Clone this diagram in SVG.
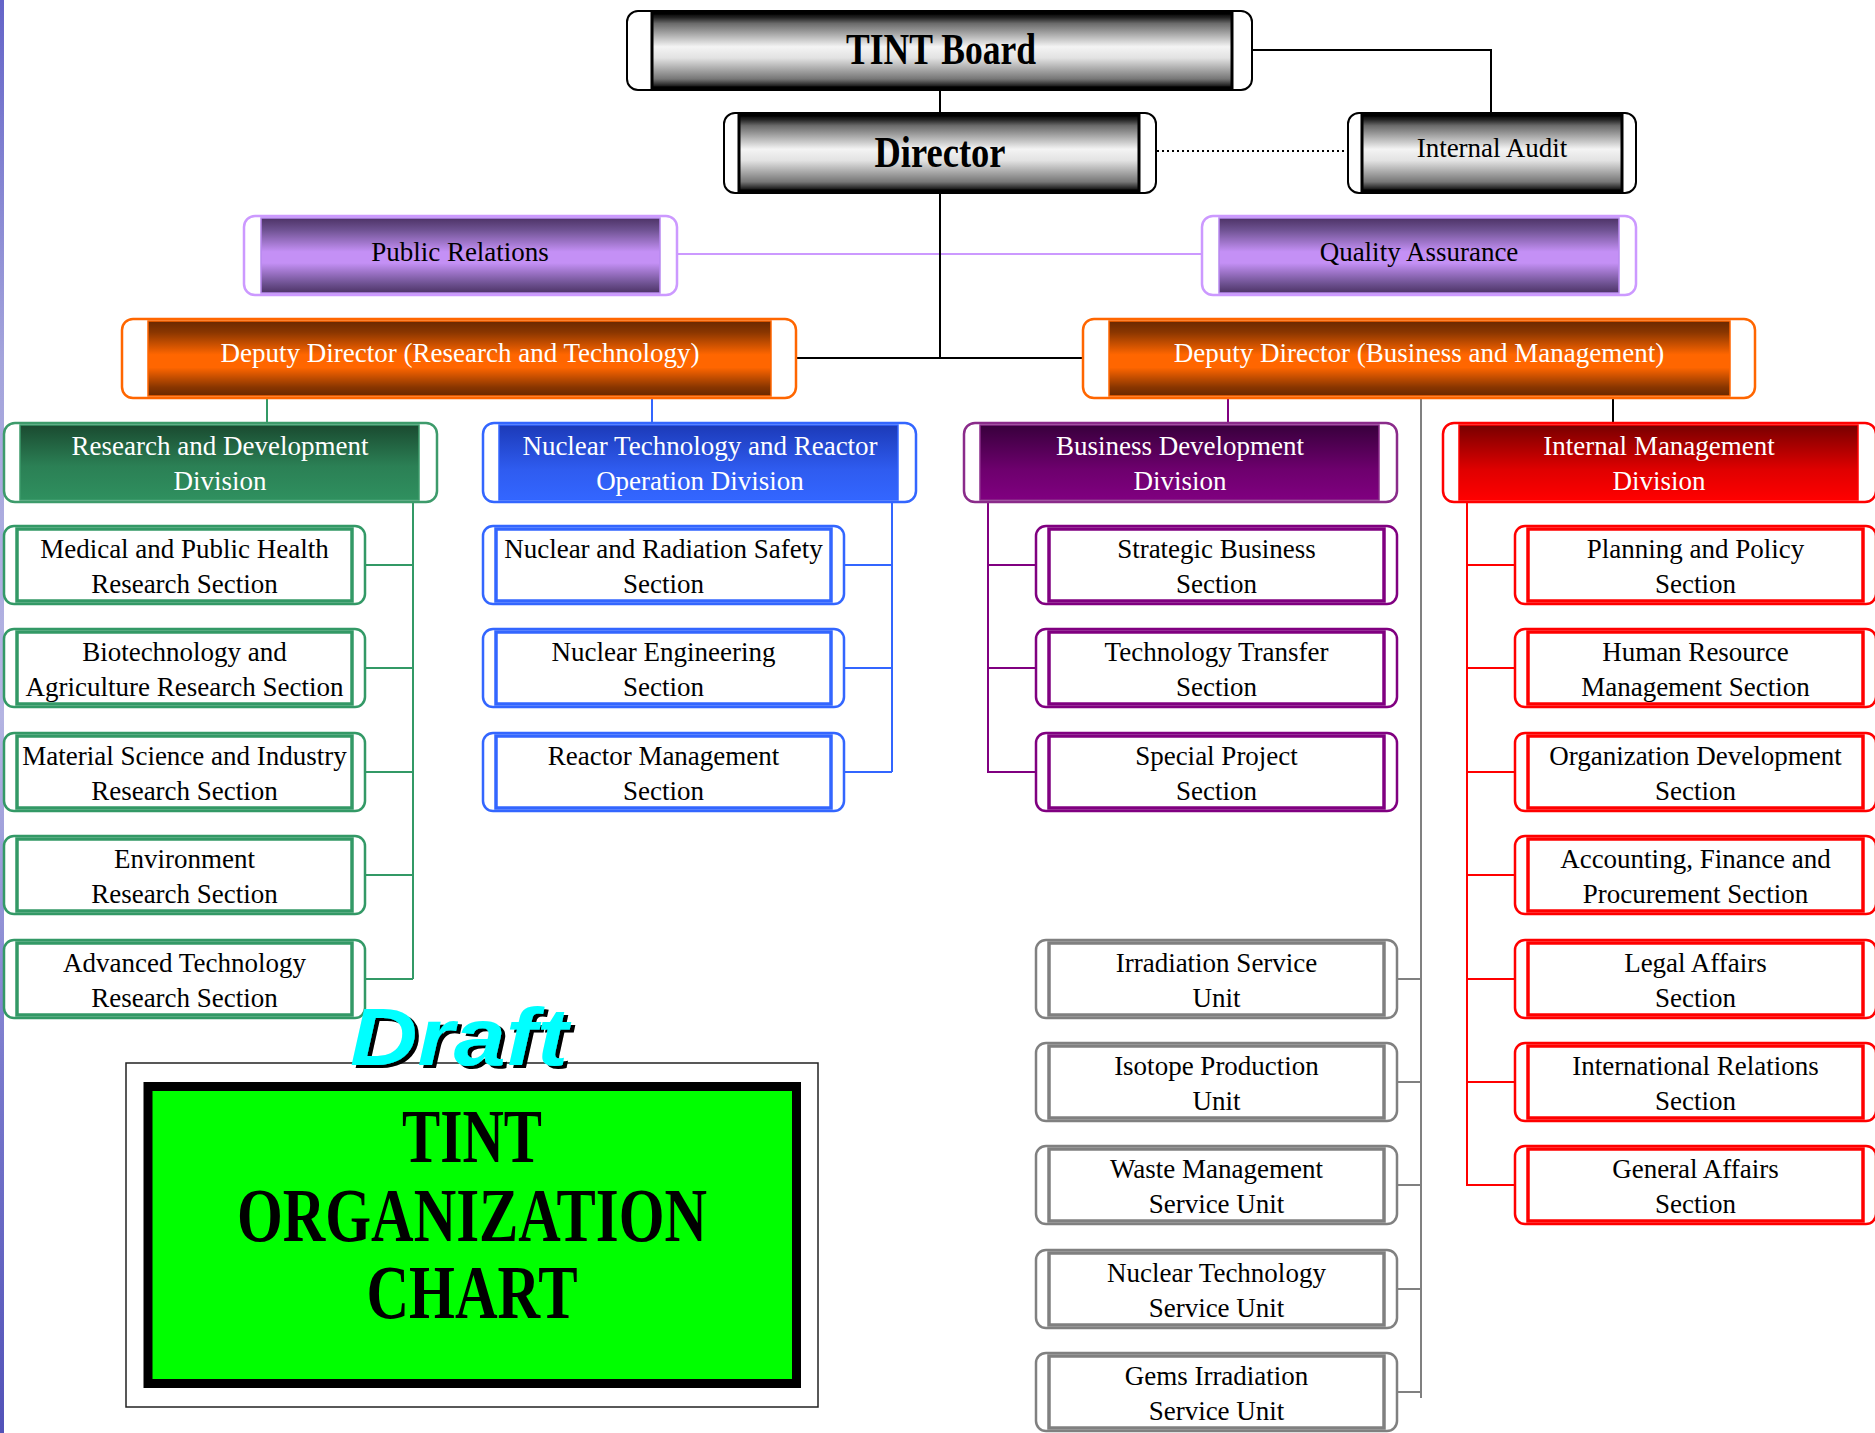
<svg xmlns="http://www.w3.org/2000/svg" width="1875" height="1433" viewBox="0 0 1875 1433">
<defs>
<linearGradient id="gBlack" x1="0" y1="0" x2="0" y2="1">
<stop offset="0" stop-color="#000"/><stop offset="0.06" stop-color="#222"/><stop offset="0.14" stop-color="#6a6a6a"/><stop offset="0.45" stop-color="#f4f4f4"/><stop offset="0.6" stop-color="#e2e2e2"/><stop offset="0.88" stop-color="#777"/><stop offset="0.95" stop-color="#333"/><stop offset="1" stop-color="#000"/>
</linearGradient>
<linearGradient id="gLav" x1="0" y1="0" x2="0" y2="1">
<stop offset="0" stop-color="#4d3366"/><stop offset="0.15" stop-color="#6c508f"/><stop offset="0.45" stop-color="#c490f5"/><stop offset="0.6" stop-color="#c490f5"/><stop offset="0.88" stop-color="#6c508f"/><stop offset="1" stop-color="#4d3366"/>
</linearGradient>
<linearGradient id="gOrange" x1="0" y1="0" x2="0" y2="1">
<stop offset="0" stop-color="#6a2800"/><stop offset="0.15" stop-color="#8a3600"/><stop offset="0.45" stop-color="#ff6600"/><stop offset="0.62" stop-color="#ff6600"/><stop offset="0.88" stop-color="#8a3600"/><stop offset="1" stop-color="#6a2800"/>
</linearGradient>
<linearGradient id="gGreen" x1="0" y1="0" x2="0" y2="1">
<stop offset="0" stop-color="#1a4a30"/><stop offset="0.55" stop-color="#2b8055"/><stop offset="1" stop-color="#2f905f"/>
</linearGradient>
<linearGradient id="gBlue" x1="0" y1="0" x2="0" y2="1">
<stop offset="0" stop-color="#1c3ab8"/><stop offset="0.6" stop-color="#2f5cf0"/><stop offset="1" stop-color="#3366ff"/>
</linearGradient>
<linearGradient id="gPurple" x1="0" y1="0" x2="0" y2="1">
<stop offset="0" stop-color="#38003c"/><stop offset="0.6" stop-color="#6e006e"/><stop offset="1" stop-color="#800080"/>
</linearGradient>
<linearGradient id="gRed" x1="0" y1="0" x2="0" y2="1">
<stop offset="0" stop-color="#780000"/><stop offset="0.6" stop-color="#e00000"/><stop offset="1" stop-color="#ff0000"/>
</linearGradient>
<linearGradient id="gEdge" x1="0" y1="0" x2="0" y2="1">
<stop offset="0" stop-color="#6464c8"/><stop offset="0.25" stop-color="#a4a4dc"/><stop offset="0.5" stop-color="#b4b4e2"/><stop offset="0.75" stop-color="#7878cc"/><stop offset="1" stop-color="#5252b8"/>
</linearGradient>
<filter id="shadow" x="-10%" y="-10%" width="130%" height="130%">
<feOffset in="SourceAlpha" dx="4" dy="3" result="off"/>
<feFlood flood-color="#000"/>
<feComposite in2="off" operator="in" result="sh"/>
<feMerge><feMergeNode in="sh"/><feMergeNode in="SourceGraphic"/></feMerge>
</filter>
<style>
.t{font-family:"Liberation Serif","Times New Roman",serif;font-size:27px;text-anchor:middle;fill:#000}
.w{fill:#fff}
.big{font-size:44px;font-weight:bold}
.o{fill:#fff;stroke-width:2.5}
.i{stroke-width:3}
.kO{stroke:#000;stroke-width:2}
.kI{fill:url(#gBlack);stroke:#000}
.lO{stroke:#cc99ff}
.lI{fill:url(#gLav);stroke:#b888f0;stroke-width:1.5}
.oO{stroke:#ff6600}
.oI{fill:url(#gOrange);stroke:#ff6600;stroke-width:1.5}
.gO{stroke:#3d9b6b}
.gI{fill:url(#gGreen);stroke:#3d9b6b;stroke-width:1.5}
.bO{stroke:#3366ff}
.bI{fill:url(#gBlue);stroke:#3366ff;stroke-width:1.5}
.pO{stroke:#8a2b8a}
.pI{fill:url(#gPurple);stroke:#8a2b8a;stroke-width:1.5}
.rO{stroke:#ff0000}
.rI{fill:url(#gRed);stroke:#ff0000;stroke-width:1.5}
.sg{stroke:#339966}
.sb{stroke:#3366ff}
.sp{stroke:#800080}
.sr{stroke:#ff0000}
.sy{stroke:#808080}
.si{fill:#fff;stroke-width:3.5}
.c{fill:none;stroke-width:2}
</style>
</defs>
<rect x="0" y="0" width="1875" height="1433" fill="#fff"/>
<rect x="0" y="0" width="4" height="1433" fill="url(#gEdge)"/>

<g id="connectors">
<path class="c" stroke="#cc99ff" stroke-width="2.5" d="M677,254H1202"/>
<path class="c" stroke="#000" d="M1252,50H1491V113M940,90V113M940,193V358"/>
<path class="c" stroke="#000" stroke-width="2.5" d="M796,358H1083"/>
<path class="c" stroke="#000" stroke-dasharray="2,3" d="M1157,151H1348"/>
<path class="c" stroke="#000" d="M1613,398V423"/>
<path class="c" stroke="#339966" d="M267,398V423M413,502V979M365,565H413M365,668H413M365,772H413M365,875H413M365,979H413"/>
<path class="c" stroke="#3366ff" d="M652,398V423M892,502V772M844,565H892M844,668H892M844,772H892"/>
<path class="c" stroke="#800080" d="M1228,398V423M988,502V772H1036M988,565H1036M988,668H1036"/>
<path class="c" stroke="#ff0000" d="M1467,502V1185H1515M1467,565H1515M1467,668H1515M1467,772H1515M1467,875H1515M1467,979H1515M1467,1082H1515"/>
<path class="c" stroke="#808080" d="M1421,398V1398M1397,979H1421M1397,1082H1421M1397,1185H1421M1397,1289H1421M1397,1392H1421"/>
</g>

<g id="tint-board"><rect class="o kO" x="627" y="11" width="625" height="79" rx="11"/><rect class="i kI" x="652" y="13" width="580" height="75"/><text class="t big" x="941" y="64" textLength="190" lengthAdjust="spacingAndGlyphs">TINT Board</text></g>
<g id="director"><rect class="o kO" x="724" y="113" width="432" height="80" rx="11"/><rect class="i kI" x="739" y="115" width="400" height="76"/><text class="t big" x="940" y="167" textLength="131" lengthAdjust="spacingAndGlyphs">Director</text></g>
<g id="internal-audit"><rect class="o kO" x="1348" y="113" width="288" height="80" rx="11"/><rect class="i kI" x="1362" y="115" width="260" height="76"/><text class="t" x="1492" y="157">Internal Audit</text></g>

<g id="public-relations"><rect class="o lO" x="244" y="216" width="433" height="79" rx="11"/><rect class="lI" x="261" y="218" width="399" height="75"/><text class="t" x="460" y="261">Public Relations</text></g>
<g id="quality-assurance"><rect class="o lO" x="1202" y="216" width="434" height="79" rx="11"/><rect class="lI" x="1219" y="218" width="400" height="75"/><text class="t" x="1419" y="261">Quality Assurance</text></g>

<g id="dd-research-technology"><rect class="o oO" x="122" y="319" width="674" height="79" rx="11"/><rect class="oI" x="148" y="321" width="623" height="75"/><text class="t w" x="460" y="362">Deputy Director (Research and Technology)</text></g>
<g id="dd-business-management"><rect class="o oO" x="1083" y="319" width="672" height="79" rx="11"/><rect class="oI" x="1109" y="321" width="621" height="75"/><text class="t w" x="1419" y="362">Deputy Director (Business and Management)</text></g>

<g id="div-rd"><rect class="o gO" x="4" y="423" width="433" height="79" rx="11"/><rect class="gI" x="20" y="425" width="399" height="75"/><text class="t w" x="220" y="455">Research and Development<tspan x="220" dy="35">Division</tspan></text></g>
<g id="div-nt"><rect class="o bO" x="483" y="423" width="433" height="79" rx="11"/><rect class="bI" x="499" y="425" width="399" height="75"/><text class="t w" x="700" y="455">Nuclear Technology and Reactor<tspan x="700" dy="35">Operation Division</tspan></text></g>
<g id="div-bd"><rect class="o pO" x="964" y="423" width="433" height="79" rx="11"/><rect class="pI" x="980" y="425" width="399" height="75"/><text class="t w" x="1180" y="455">Business Development<tspan x="1180" dy="35">Division</tspan></text></g>
<g id="div-im"><rect class="o rO" x="1443" y="423" width="433" height="79" rx="11"/><rect class="rI" x="1459" y="425" width="399" height="75"/><text class="t w" x="1659" y="455">Internal Management<tspan x="1659" dy="35">Division</tspan></text></g>

<g id="sec-medical"><rect class="o sg" x="4" y="526" width="361" height="78" rx="10"/><rect class="si sg" x="17" y="529" width="335" height="72"/><text class="t" x="184.5" y="558">Medical and Public Health<tspan x="184.5" dy="35">Research Section</tspan></text></g>
<g id="sec-biotech"><rect class="o sg" x="4" y="629" width="361" height="78" rx="10"/><rect class="si sg" x="17" y="632" width="335" height="72"/><text class="t" x="184.5" y="661">Biotechnology and<tspan x="184.5" dy="35">Agriculture Research Section</tspan></text></g>
<g id="sec-material"><rect class="o sg" x="4" y="733" width="361" height="78" rx="10"/><rect class="si sg" x="17" y="736" width="335" height="72"/><text class="t" x="184.5" y="765">Material Science and Industry<tspan x="184.5" dy="35">Research Section</tspan></text></g>
<g id="sec-environment"><rect class="o sg" x="4" y="836" width="361" height="78" rx="10"/><rect class="si sg" x="17" y="839" width="335" height="72"/><text class="t" x="184.5" y="868">Environment<tspan x="184.5" dy="35">Research Section</tspan></text></g>
<g id="sec-advanced"><rect class="o sg" x="4" y="940" width="361" height="78" rx="10"/><rect class="si sg" x="17" y="943" width="335" height="72"/><text class="t" x="184.5" y="972">Advanced Technology<tspan x="184.5" dy="35">Research Section</tspan></text></g>

<g id="sec-nrs"><rect class="o sb" x="483" y="526" width="361" height="78" rx="10"/><rect class="si sb" x="496" y="529" width="335" height="72"/><text class="t" x="663.5" y="558">Nuclear and Radiation Safety<tspan x="663.5" dy="35">Section</tspan></text></g>
<g id="sec-ne"><rect class="o sb" x="483" y="629" width="361" height="78" rx="10"/><rect class="si sb" x="496" y="632" width="335" height="72"/><text class="t" x="663.5" y="661">Nuclear Engineering<tspan x="663.5" dy="35">Section</tspan></text></g>
<g id="sec-rm"><rect class="o sb" x="483" y="733" width="361" height="78" rx="10"/><rect class="si sb" x="496" y="736" width="335" height="72"/><text class="t" x="663.5" y="765">Reactor Management<tspan x="663.5" dy="35">Section</tspan></text></g>

<g id="sec-sb"><rect class="o sp" x="1036" y="526" width="361" height="78" rx="10"/><rect class="si sp" x="1049" y="529" width="335" height="72"/><text class="t" x="1216.5" y="558">Strategic Business<tspan x="1216.5" dy="35">Section</tspan></text></g>
<g id="sec-tt"><rect class="o sp" x="1036" y="629" width="361" height="78" rx="10"/><rect class="si sp" x="1049" y="632" width="335" height="72"/><text class="t" x="1216.5" y="661">Technology Transfer<tspan x="1216.5" dy="35">Section</tspan></text></g>
<g id="sec-sp"><rect class="o sp" x="1036" y="733" width="361" height="78" rx="10"/><rect class="si sp" x="1049" y="736" width="335" height="72"/><text class="t" x="1216.5" y="765">Special Project<tspan x="1216.5" dy="35">Section</tspan></text></g>

<g id="unit-irr"><rect class="o sy" x="1036" y="940" width="361" height="78" rx="10"/><rect class="si sy" x="1049" y="943" width="335" height="72"/><text class="t" x="1216.5" y="972">Irradiation Service<tspan x="1216.5" dy="35">Unit</tspan></text></g>
<g id="unit-iso"><rect class="o sy" x="1036" y="1043" width="361" height="78" rx="10"/><rect class="si sy" x="1049" y="1046" width="335" height="72"/><text class="t" x="1216.5" y="1075">Isotope Production<tspan x="1216.5" dy="35">Unit</tspan></text></g>
<g id="unit-waste"><rect class="o sy" x="1036" y="1146" width="361" height="78" rx="10"/><rect class="si sy" x="1049" y="1149" width="335" height="72"/><text class="t" x="1216.5" y="1178">Waste Management<tspan x="1216.5" dy="35">Service Unit</tspan></text></g>
<g id="unit-nts"><rect class="o sy" x="1036" y="1250" width="361" height="78" rx="10"/><rect class="si sy" x="1049" y="1253" width="335" height="72"/><text class="t" x="1216.5" y="1282">Nuclear Technology<tspan x="1216.5" dy="35">Service Unit</tspan></text></g>
<g id="unit-gems"><rect class="o sy" x="1036" y="1353" width="361" height="78" rx="10"/><rect class="si sy" x="1049" y="1356" width="335" height="72"/><text class="t" x="1216.5" y="1385">Gems Irradiation<tspan x="1216.5" dy="35">Service Unit</tspan></text></g>

<g id="sec-pp"><rect class="o sr" x="1515" y="526" width="361" height="78" rx="10"/><rect class="si sr" x="1528" y="529" width="335" height="72"/><text class="t" x="1695.5" y="558">Planning and Policy<tspan x="1695.5" dy="35">Section</tspan></text></g>
<g id="sec-hr"><rect class="o sr" x="1515" y="629" width="361" height="78" rx="10"/><rect class="si sr" x="1528" y="632" width="335" height="72"/><text class="t" x="1695.5" y="661">Human Resource<tspan x="1695.5" dy="35">Management Section</tspan></text></g>
<g id="sec-od"><rect class="o sr" x="1515" y="733" width="361" height="78" rx="10"/><rect class="si sr" x="1528" y="736" width="335" height="72"/><text class="t" x="1695.5" y="765">Organization Development<tspan x="1695.5" dy="35">Section</tspan></text></g>
<g id="sec-afp"><rect class="o sr" x="1515" y="836" width="361" height="78" rx="10"/><rect class="si sr" x="1528" y="839" width="335" height="72"/><text class="t" x="1695.5" y="868">Accounting, Finance and<tspan x="1695.5" dy="35">Procurement Section</tspan></text></g>
<g id="sec-legal"><rect class="o sr" x="1515" y="940" width="361" height="78" rx="10"/><rect class="si sr" x="1528" y="943" width="335" height="72"/><text class="t" x="1695.5" y="972">Legal Affairs<tspan x="1695.5" dy="35">Section</tspan></text></g>
<g id="sec-ir"><rect class="o sr" x="1515" y="1043" width="361" height="78" rx="10"/><rect class="si sr" x="1528" y="1046" width="335" height="72"/><text class="t" x="1695.5" y="1075">International Relations<tspan x="1695.5" dy="35">Section</tspan></text></g>
<g id="sec-ga"><rect class="o sr" x="1515" y="1146" width="361" height="78" rx="10"/><rect class="si sr" x="1528" y="1149" width="335" height="72"/><text class="t" x="1695.5" y="1178">General Affairs<tspan x="1695.5" dy="35">Section</tspan></text></g>

<g id="title-box">
<rect x="126" y="1063" width="692" height="344" fill="#fff" stroke="#222" stroke-width="1.5"/>
<rect x="148" y="1086.5" width="648.5" height="297" fill="#00ff00" stroke="#000" stroke-width="9"/>
<text class="t" style="font-weight:bold;font-size:76px" x="472" y="1162" textLength="140" lengthAdjust="spacingAndGlyphs">TINT</text>
<text class="t" style="font-weight:bold;font-size:76px" x="472" y="1241" textLength="470" lengthAdjust="spacingAndGlyphs">ORGANIZATION</text>
<text class="t" style="font-weight:bold;font-size:76px" x="472" y="1318" textLength="211" lengthAdjust="spacingAndGlyphs">CHART</text>
</g>

<g id="draft">
<text x="350" y="1065" font-family="Liberation Sans, Arial, sans-serif" font-size="82" font-weight="bold" font-style="italic" fill="#00ffff" filter="url(#shadow)" textLength="218" lengthAdjust="spacingAndGlyphs">Draft</text>
</g>
</svg>
